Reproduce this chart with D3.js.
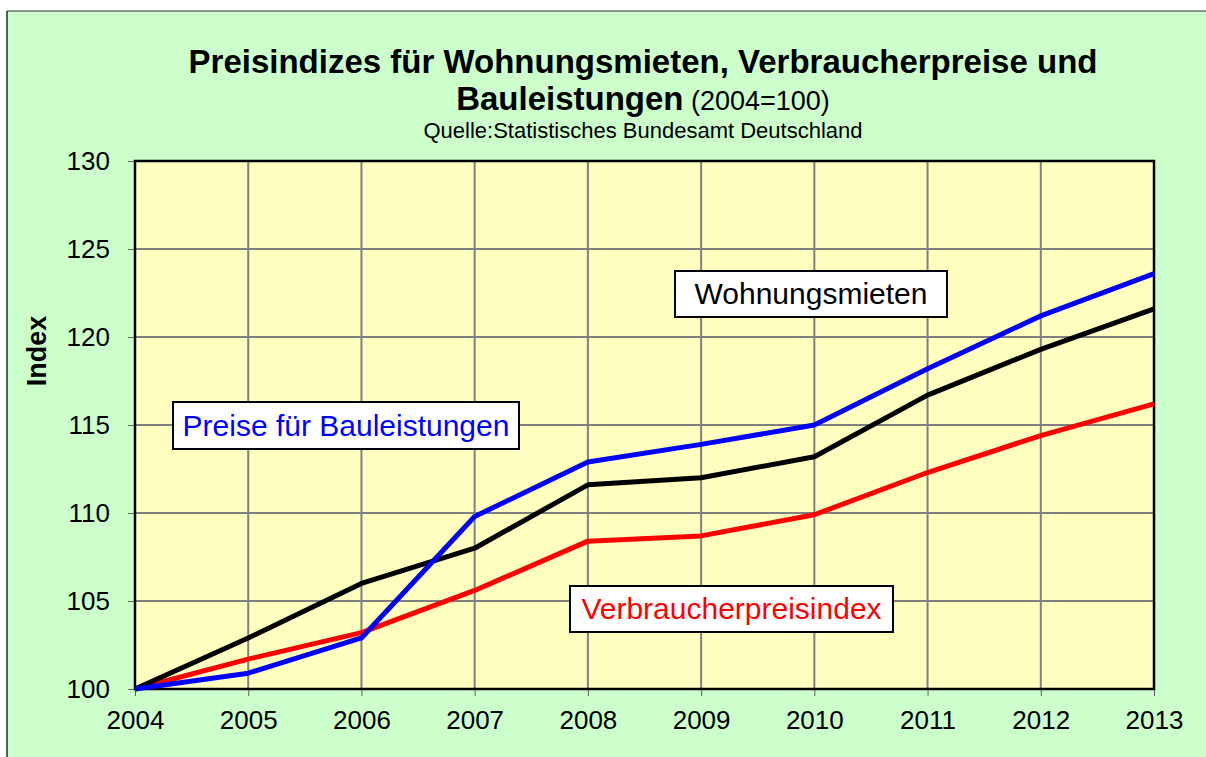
<!DOCTYPE html>
<html>
<head>
<meta charset="utf-8">
<script src="https://cdn.jsdelivr.net/npm/d3@7"></script>
<style>
  html, body { margin: 0; padding: 0; background: #ffffff; }
  svg { display: block; }
</style>
</head>
<body>
<div id="chart"></div>
<script>
// Preisindizes (2004=100), Quelle: Statistisches Bundesamt
const years = [2004, 2005, 2006, 2007, 2008, 2009, 2010, 2011, 2012, 2013];
const bauleistungen = [100, 100.9, 102.9, 109.8, 112.9, 113.9, 115.0, 118.2, 121.2, 123.6];
const wohnungsmieten = [100, 102.9, 106.0, 108.0, 111.6, 112.0, 113.2, 116.7, 119.3, 121.6];
const verbraucherpreise = [100, 101.7, 103.2, 105.6, 108.4, 108.7, 109.9, 112.3, 114.4, 116.2];
const yTicks = [100, 105, 110, 115, 120, 125, 130];

const width = 1206, height = 757;
const font = "'Liberation Sans', Arial, sans-serif";

const svg = d3.select("#chart").append("svg")
    .attr("width", width)
    .attr("height", height);

// Background panel
svg.append("rect")
    .attr("x", 7).attr("y", 11)
    .attr("width", width).attr("height", height)
    .attr("fill", "#ccffcc");
svg.append("line").attr("x1", 7).attr("x2", width).attr("y1", 11).attr("y2", 11)
    .attr("stroke", "#707070").attr("stroke-width", 1.5);
svg.append("line").attr("x1", 7).attr("x2", 7).attr("y1", 11).attr("y2", height)
    .attr("stroke", "#203020").attr("stroke-width", 1.5);

// Plot area
const plot = { left: 135, top: 161, right: 1154, bottom: 689 };

const x = d3.scaleLinear().domain([2004, 2013]).range([plot.left, plot.right]);
const y = d3.scaleLinear().domain([100, 130]).range([plot.bottom, plot.top]);

svg.append("rect")
    .attr("x", plot.left).attr("y", plot.top)
    .attr("width", plot.right - plot.left).attr("height", plot.bottom - plot.top)
    .attr("fill", "#ffffc0");

// Grid
svg.append("g").selectAll("line").data(years.slice(1, -1)).enter().append("line")
    .attr("x1", d => x(d)).attr("x2", d => x(d))
    .attr("y1", plot.top).attr("y2", plot.bottom)
    .attr("stroke", "#808080").attr("stroke-width", 2);
svg.append("g").selectAll("line").data(yTicks.slice(1, -1)).enter().append("line")
    .attr("x1", plot.left).attr("x2", plot.right)
    .attr("y1", d => y(d)).attr("y2", d => y(d))
    .attr("stroke", "#808080").attr("stroke-width", 2);

// Axes
const xAxis = svg.append("g")
    .attr("transform", `translate(0,${plot.bottom})`)
    .call(d3.axisBottom(x).tickValues(years).tickFormat(d3.format("d")).tickSize(7).tickSizeOuter(0).tickPadding(15));
const yAxis = svg.append("g")
    .attr("transform", `translate(${plot.left},0)`)
    .call(d3.axisLeft(y).tickValues(yTicks).tickSize(7).tickSizeOuter(0).tickPadding(18));

[xAxis, yAxis].forEach(a => {
    a.select(".domain").remove();
    a.selectAll(".tick line").attr("stroke", "#606060").attr("stroke-width", 1);
    a.selectAll(".tick text")
        .attr("fill", "#000")
        .style("font-family", font)
        .style("font-size", "26px");
});

// Plot border
svg.append("rect")
    .attr("x", plot.left).attr("y", plot.top)
    .attr("width", plot.right - plot.left).attr("height", plot.bottom - plot.top)
    .attr("fill", "none").attr("stroke", "#000").attr("stroke-width", 2.5);

// Lines
const line = d3.line().x((d, i) => x(years[i])).y(d => y(d));
const series = [
    { values: verbraucherpreise, color: "#ff0000" },
    { values: wohnungsmieten, color: "#000000" },
    { values: bauleistungen, color: "#0000ff" }
];
svg.append("g").selectAll("path").data(series).enter().append("path")
    .attr("d", d => line(d.values))
    .attr("fill", "none")
    .attr("stroke", d => d.color)
    .attr("stroke-width", 5)
    .attr("stroke-linejoin", "round");

// Series labels
const labels = [
    { text: "Wohnungsmieten", color: "#000", x: 675, y: 271, w: 272, h: 46 },
    { text: "Preise für Bauleistungen", color: "#0000ff", x: 173, y: 402, w: 346, h: 47 },
    { text: "Verbraucherpreisindex", color: "#ff0000", x: 570, y: 586, w: 323, h: 46 }
];
const lg = svg.append("g").selectAll("g").data(labels).enter().append("g");
lg.append("rect")
    .attr("x", d => d.x).attr("y", d => d.y)
    .attr("width", d => d.w).attr("height", d => d.h)
    .attr("fill", "#fff").attr("stroke", "#000").attr("stroke-width", 2);
lg.append("text")
    .attr("x", d => d.x + d.w / 2).attr("y", d => d.y + d.h / 2 + 10)
    .attr("text-anchor", "middle")
    .attr("fill", d => d.color)
    .style("font-family", font)
    .style("font-size", "30px")
    .text(d => d.text);

// Titles
svg.append("text")
    .attr("x", 643).attr("y", 73)
    .attr("text-anchor", "middle")
    .style("font-family", font).style("font-size", "33px").style("font-weight", "bold")
    .text("Preisindizes für Wohnungsmieten, Verbraucherpreise und");
const t2 = svg.append("text")
    .attr("x", 643).attr("y", 110)
    .attr("text-anchor", "middle")
    .style("font-family", font);
t2.append("tspan").style("font-size", "33px").style("font-weight", "bold").text("Bauleistungen");
t2.append("tspan").style("font-size", "27px").text(" (2004=100)");
svg.append("text")
    .attr("x", 643).attr("y", 138)
    .attr("text-anchor", "middle")
    .style("font-family", font).style("font-size", "22px")
    .text("Quelle:Statistisches Bundesamt Deutschland");

// Y axis title
svg.append("text")
    .attr("transform", "translate(46,351) rotate(-90)")
    .attr("text-anchor", "middle")
    .style("font-family", font).style("font-size", "27px").style("font-weight", "bold")
    .text("Index");
</script>
</body>
</html>
